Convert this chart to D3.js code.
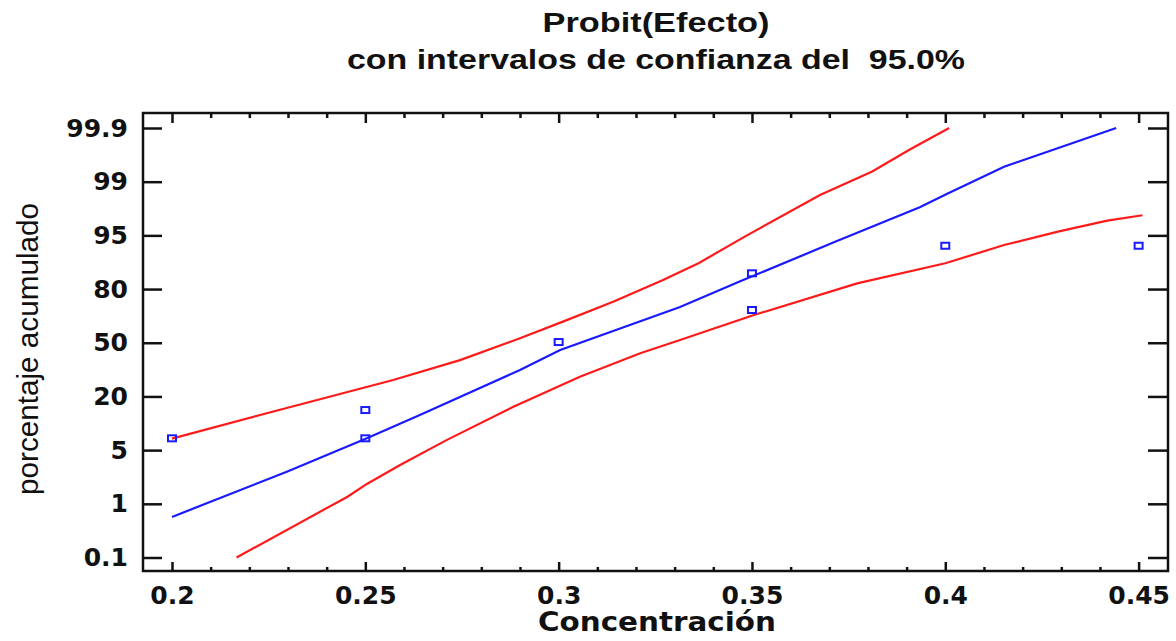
<!DOCTYPE html>
<meta charset="utf-8">
<style>
  body { margin: 0; background: #fff; }
  .tick text { font-family: "DejaVu Sans", sans-serif; font-weight: bold; font-size: 25px; fill: #111; }
  .axis path, .axis line { stroke: #111; stroke-width: 2.5px; }
</style>
<body>
<div id="chart"></div>
<script src="https://d3js.org/d3.v7.min.js"></script>
<script>
  // ticks
  var xTicks = [0.2, 0.25, 0.3, 0.35, 0.4, 0.45];
  var xMinorTicks = [0.21, 0.22, 0.23, 0.24, 0.26, 0.27, 0.28, 0.29, 0.31, 0.32, 0.33, 0.34,
                     0.36, 0.37, 0.38, 0.39, 0.41, 0.42, 0.43, 0.44];
  var yTicks = [0.1, 1, 5, 20, 50, 80, 95, 99, 99.9];

  // observed points (concentracion, % acumulado)
  var obsConc = [0.2, 0.25, 0.25, 0.3, 0.35, 0.35, 0.4, 0.45];
  var obsPct  = [8.3, 16.2, 8.3, 50.4, 84.4, 68.3, 92.1, 92.1];

  // fitted probit line
  var fitConc = [0.2, 0.2297, 0.2504, 0.2641, 0.29, 0.3004, 0.3314, 0.3468, 0.3715, 0.3934, 0.4005, 0.4152, 0.4442];
  var fitPct  = [0.78, 3.39, 8.3, 14.8, 34.8, 45.9, 70.0, 82.1, 93.2, 97.1, 98.1, 99.25, 99.9];

  // upper 95% limit
  var upConc = [0.2, 0.2245, 0.2572, 0.2745, 0.29, 0.3011, 0.3141, 0.327, 0.3363, 0.3487, 0.3676, 0.3811, 0.3906, 0.401];
  var upPct  = [8.2, 15.3, 29.2, 40.3, 52.5, 61.8, 72.9, 82.5, 87.3, 95.0, 98.0, 99.17, 99.53, 99.9];

  // lower 95% limit
  var loConc = [0.2167, 0.2454, 0.2504, 0.259, 0.271, 0.2883, 0.3055, 0.3211, 0.3314, 0.3505, 0.3772, 0.4, 0.4152, 0.4294, 0.4419, 0.451];
  var loPct  = [0.1, 1.53, 2.48, 3.89, 7.8, 17.1, 31.0, 44.1, 51.5, 65.5, 81.6, 87.2, 92.3, 95.3, 96.1, 96.5];

  var width = 1176, height = 641;
  var plotLeft = 143, plotRight = 1168, plotTop = 113, plotBottom = 571;

  var svg = d3.select("#chart").append("svg")
    .attr("width", width)
    .attr("height", height);

  var x = d3.scaleLinear()
    .domain([0.1925, 0.4576])
    .range([plotLeft, plotRight]);

  // probit axis: labelled percentages are evenly spaced
  var yFirst = 557.5, yLast = 128;
  var yStep = (yFirst - yLast) / (yTicks.length - 1);
  var y = d3.scaleLinear()
    .domain(yTicks)
    .range(yTicks.map(function(d, i) { return yFirst - i * yStep; }));

  function toPts(cs, ps) {
    return cs.map(function(c, i) { return [c, ps[i]]; });
  }

  // axes
  svg.append("g").attr("class", "axis")
    .attr("transform", "translate(0," + plotBottom + ")")
    .call(d3.axisBottom(x).tickValues(xTicks).tickSizeInner(-9).tickSizeOuter(0).tickPadding(15)
      .tickFormat(function(d) { return String(d); }));
  svg.append("g").attr("class", "axis")
    .attr("transform", "translate(0," + plotBottom + ")")
    .call(d3.axisBottom(x).tickValues(xMinorTicks).tickSizeInner(-4).tickSizeOuter(0).tickFormat(""));
  svg.append("g").attr("class", "axis")
    .attr("transform", "translate(0," + plotTop + ")")
    .call(d3.axisTop(x).tickValues(xTicks).tickSizeInner(-10).tickSizeOuter(0).tickFormat(""));
  svg.append("g").attr("class", "axis")
    .attr("transform", "translate(0," + plotTop + ")")
    .call(d3.axisTop(x).tickValues(xMinorTicks).tickSizeInner(-5).tickSizeOuter(0).tickFormat(""));

  svg.append("g").attr("class", "axis")
    .attr("transform", "translate(" + plotLeft + ",0)")
    .call(d3.axisLeft(y).tickValues(yTicks).tickSizeInner(-19).tickSizeOuter(0).tickPadding(15)
      .tickFormat(function(d) { return String(d); }));
  svg.append("g").attr("class", "axis")
    .attr("transform", "translate(" + plotRight + ",0)")
    .call(d3.axisRight(y).tickValues(yTicks).tickSizeInner(-20).tickSizeOuter(0).tickFormat(""));

  svg.selectAll(".axis .domain").remove();

  svg.append("rect")
    .attr("x", plotLeft).attr("y", plotTop)
    .attr("width", plotRight - plotLeft).attr("height", plotBottom - plotTop)
    .attr("fill", "none").attr("stroke", "#111").attr("stroke-width", 2.5);

  var line = d3.line()
    .x(function(d) { return x(d[0]); })
    .y(function(d) { return y(d[1]); });

  svg.append("path").datum(toPts(upConc, upPct))
    .attr("d", line).attr("fill", "none").attr("stroke", "#ff1a1a").attr("stroke-width", 2.2);
  svg.append("path").datum(toPts(loConc, loPct))
    .attr("d", line).attr("fill", "none").attr("stroke", "#ff1a1a").attr("stroke-width", 2.2);
  svg.append("path").datum(toPts(fitConc, fitPct))
    .attr("d", line).attr("fill", "none").attr("stroke", "#1a1aff").attr("stroke-width", 2.2);

  svg.selectAll("rect.obs")
    .data(toPts(obsConc, obsPct))
    .enter().append("rect")
    .attr("class", "obs")
    .attr("x", function(d) { return x(d[0]) - 4; })
    .attr("y", function(d) { return y(d[1]) - 3; })
    .attr("width", 8).attr("height", 6)
    .attr("fill", "none").attr("stroke", "#1a1aff").attr("stroke-width", 2);

  // titles
  svg.append("text")
    .attr("x", 656).attr("y", 32)
    .attr("text-anchor", "middle")
    .attr("font-family", "Liberation Sans, Arial, sans-serif")
    .attr("font-weight", "bold").attr("font-size", 27)
    .attr("textLength", 227).attr("lengthAdjust", "spacingAndGlyphs")
    .attr("fill", "#111")
    .text("Probit(Efecto)");
  svg.append("text")
    .attr("x", 656).attr("y", 69)
    .attr("text-anchor", "middle")
    .attr("font-family", "Liberation Sans, Arial, sans-serif")
    .attr("font-weight", "bold").attr("font-size", 27)
    .attr("textLength", 618).attr("lengthAdjust", "spacingAndGlyphs")
    .attr("fill", "#111")
    .attr("xml:space", "preserve")
    .text("con intervalos de confianza del  95.0%");

  svg.append("text")
    .attr("x", 657).attr("y", 631)
    .attr("text-anchor", "middle")
    .attr("font-family", "DejaVu Sans, sans-serif")
    .attr("font-weight", "bold").attr("font-size", 26)
    .attr("textLength", 238).attr("lengthAdjust", "spacingAndGlyphs")
    .attr("fill", "#111")
    .text("Concentración");

  svg.append("text")
    .attr("transform", "translate(38,349) rotate(-90)")
    .attr("text-anchor", "middle")
    .attr("font-family", "Liberation Sans, Arial, sans-serif")
    .attr("font-size", 30)
    .attr("textLength", 292).attr("lengthAdjust", "spacingAndGlyphs")
    .attr("fill", "#111")
    .text("porcentaje acumulado");
</script>
</body>
</html>
